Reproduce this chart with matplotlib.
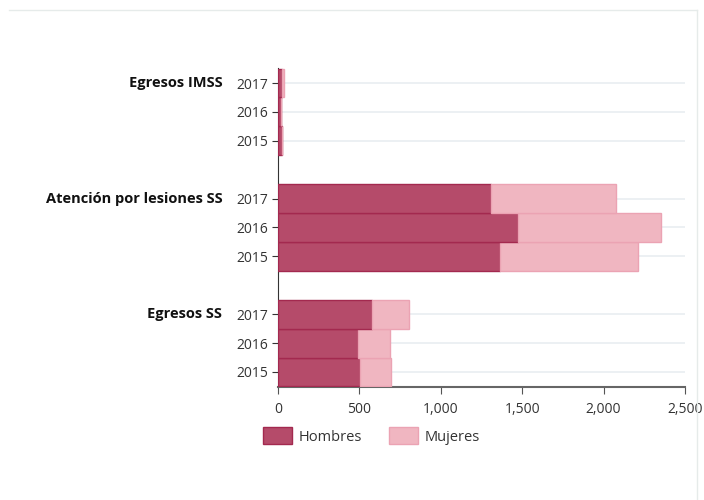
import numpy as np
import matplotlib.pyplot as plt
from matplotlib.lines import Line2D
from matplotlib.patches import Patch

plt.rcParams['font.family'] = ['Open Sans', 'DejaVu Sans']

# datos (de abajo hacia arriba: Egresos SS, Atención, Egresos IMSS; años 2015, 2016, 2017)
grupos = ["Egresos SS", "Atención por lesiones SS", "Egresos IMSS"]
anios = ["2015", "2016", "2017"]
hombres = [[504, 493, 575], [1362, 1474, 1306], [22, 20, 26]]
mujeres = [[190, 195, 230], [847, 877, 768], [2, 1, 10]]

c_h, e_h = "#b54b6a", "#a3294f"
c_m, e_m = "#f0b6c1", "#eba3b3"

fig = plt.figure(figsize=(7.04, 5.0), dpi=100)
ax = fig.add_axes([278/704, 113/500, 407/704, 319/500])

pos = []
etiquetas = []
for g in range(len(grupos)):
    for a in range(len(anios)):
        y = g * 4 + a
        ax.barh(y, hombres[g][a], height=1.0, color=c_h, edgecolor=e_h, linewidth=1, zorder=3)
        ax.barh(y, mujeres[g][a], left=hombres[g][a], height=1.0, color=c_m, edgecolor=e_m, linewidth=1, zorder=3)
        pos.append(y)
        etiquetas.append(anios[a])

ax.set_yticks(pos)
ax.set_yticklabels(etiquetas, fontsize=10, color="#333333")
ax.set_ylim(-0.52, 10.52)
ax.set_xlim(0, 2500)
ax.set_xticks([0, 500, 1000, 1500, 2000, 2500])
ax.set_xticklabels(["0", "500", "1,000", "1,500", "2,000", "2,500"], fontsize=10, color="#333333")

ax.grid(axis="y", color="#e9eef1", linewidth=1.2, zorder=0)
for s in ["top", "right"]:
    ax.spines[s].set_visible(False)
ax.spines["left"].set_color("#333333")
ax.spines["bottom"].set_color("#666666")
ax.spines["bottom"].set_linewidth(1.5)
ax.tick_params(axis="y", length=4, color="#333333", pad=3)
ax.tick_params(axis="x", length=5, color="#555555", pad=6)

# etiquetas de grupo en negrita
for g, nombre in enumerate(grupos):
    ax.text(-0.137, g * 4 + 2, nombre, transform=ax.get_yaxis_transform(),
            ha="right", va="center", fontsize=10.5, fontweight="bold", color="#111111")

# leyenda
handles = [Patch(facecolor=c_h, edgecolor=e_h, label="Hombres"),
           Patch(facecolor=c_m, edgecolor=e_m, label="Mujeres")]
fig.legend(handles=handles, loc="center left", bbox_to_anchor=(250/704, 1 - 436/500),
           ncol=2, frameon=False, fontsize=10.5, handlelength=2.0, handleheight=1.4,
           columnspacing=1.9, handletextpad=0.4, labelcolor="#333333")

# marco de la tarjeta
fig.add_artist(Line2D([9/704, 697/704], [1 - 10/500, 1 - 10/500], color="#e6ebea", linewidth=1))
fig.add_artist(Line2D([697/704, 697/704], [1 - 10/500, 0], color="#e6ebea", linewidth=1))

fig.savefig("out.png", dpi=100)
